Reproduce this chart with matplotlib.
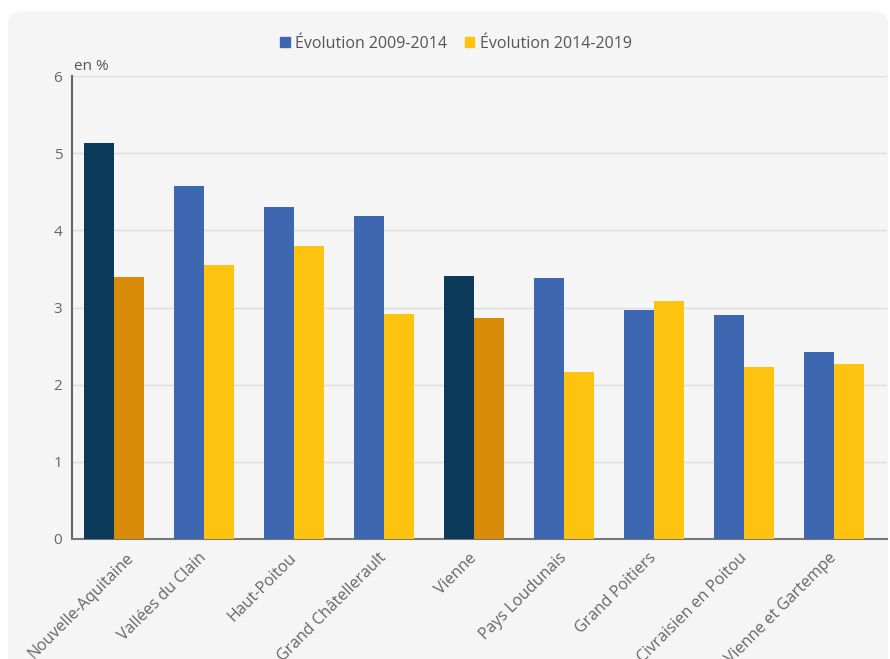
import numpy as np
import matplotlib.pyplot as plt
from matplotlib.patches import FancyBboxPatch, Patch
from matplotlib.transforms import ScaledTranslation

plt.rcParams['font.family'] = ['Open Sans', 'DejaVu Sans']

# Données
territoires = ["Nouvelle-Aquitaine", "Vallées du Clain", "Haut-Poitou",
               "Grand Châtellerault", "Vienne", "Pays Loudunais",
               "Grand Poitiers", "Civraisien en Poitou", "Vienne et Gartempe"]
evol_2009_2014 = [5.13, 4.57, 4.30, 4.19, 3.41, 3.38, 2.97, 2.90, 2.42]
evol_2014_2019 = [3.40, 3.55, 3.80, 2.92, 2.86, 2.16, 3.08, 2.23, 2.27]
mis_en_avant = ["Nouvelle-Aquitaine", "Vienne"]

bleu, jaune = "#3d67b0", "#fdc30f"
bleu_fonce, orange = "#0b3a5a", "#d98b0a"

fig = plt.figure(figsize=(8.9, 6.59), dpi=100)
fig.patch.set_facecolor("white")

# fond gris arrondi
fond = FancyBboxPatch((8 / 890, -0.05), 880 / 890, 1 - 11 / 659 + 0.05,
                      boxstyle="round,pad=0,rounding_size=0.02",
                      transform=fig.transFigure, facecolor="#f5f5f5",
                      edgecolor="none", zorder=-5)
fig.patches.append(fond)

# 90 px par catégorie, l'axe va jusqu'au bord droit
ax = fig.add_axes([72 / 890, 1 - 539 / 659, 815 / 890, 463 / 659])
ax.set_facecolor("none")
ax.set_zorder(2)

x = np.arange(len(territoires))
w = 0.335
c1 = [bleu_fonce if t in mis_en_avant else bleu for t in territoires]
c2 = [orange if t in mis_en_avant else jaune for t in territoires]
ax.bar(x - w / 2, evol_2009_2014, w, color=c1, zorder=3)
ax.bar(x + w / 2, evol_2014_2019, w, color=c2, zorder=3)

ax.set_ylim(0, 6)
ax.set_xlim(-0.47, -0.47 + 815 / 90)
ax.set_yticks(range(0, 7))
ax.grid(axis="y", color="#dddddd", linewidth=1, zorder=0)
ax.tick_params(axis="y", length=0, labelsize=11, colors="#666666", pad=7)
ax.tick_params(axis="x", length=0, labelsize=11.5, colors="#666666", pad=12)
ax.set_xticks(x)
ax.set_xticklabels(territoires, rotation=45, ha="right", va="center",
                   rotation_mode="anchor")
# la première étiquette est décalée vers la droite comme sur l'original
lab0 = ax.get_xticklabels()[0]
lab0.set_transform(lab0.get_transform() + ScaledTranslation(0.17, 0, fig.dpi_scale_trans))

for s in ["top", "right"]:
    ax.spines[s].set_visible(False)
ax.spines["left"].set_color("#666666")
ax.spines["left"].set_linewidth(1.5)
ax.spines["bottom"].set_color("#777777")
ax.spines["bottom"].set_linewidth(1.5)

ax.text(0.002, 1.004, "en %", transform=ax.transAxes, fontsize=11,
        color="#555555", ha="left", va="bottom")

handles = [Patch(color=bleu, label="Évolution 2009-2014"),
           Patch(color=jaune, label="Évolution 2014-2019")]
fig.legend(handles=handles, loc="center", bbox_to_anchor=(456 / 890, 1 - 44 / 659),
           ncol=2, frameon=False, fontsize=11.5, handlelength=0.6, handleheight=0.6,
           handletextpad=0.35, columnspacing=1.1, labelcolor="#555555")

fig.savefig("out.png", dpi=100)
